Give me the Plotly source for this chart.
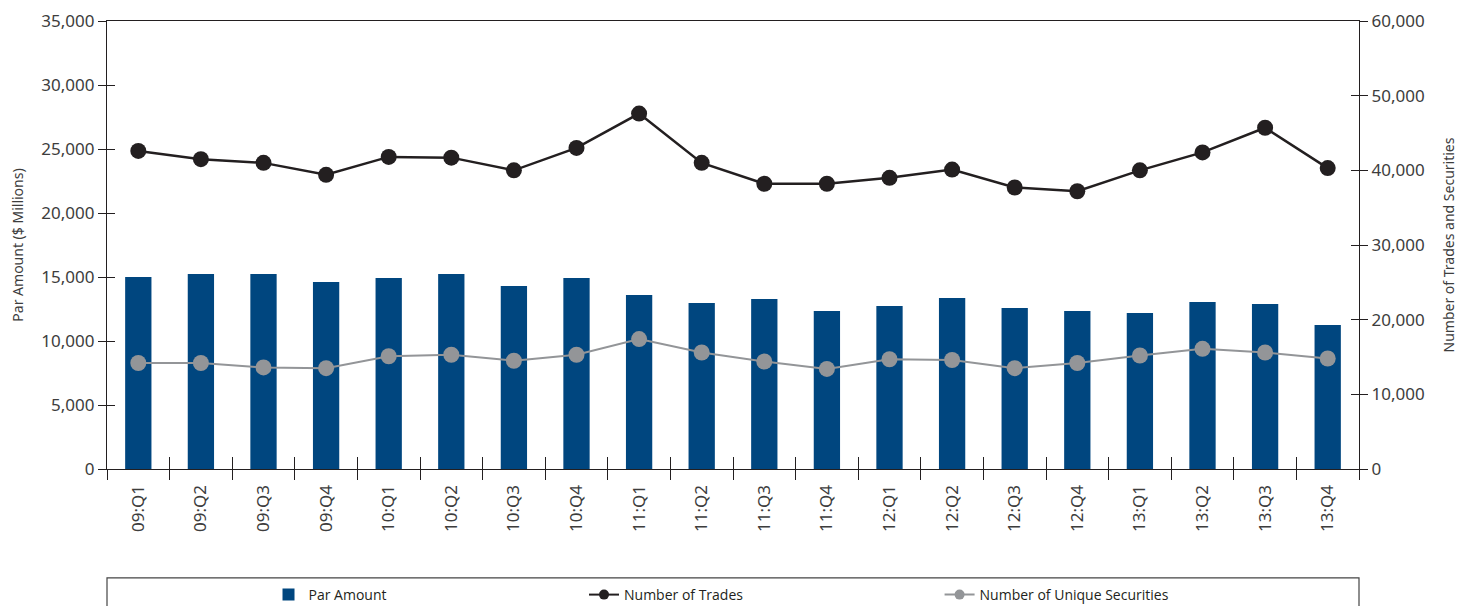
import plotly.graph_objects as go

# --------------------------------------------------
# DATA
# --------------------------------------------------

quarters = [
    "09:Q1", "09:Q2", "09:Q3", "09:Q4",
    "10:Q1", "10:Q2", "10:Q3", "10:Q4",
    "11:Q1", "11:Q2", "11:Q3", "11:Q4",
    "12:Q1", "12:Q2", "12:Q3", "12:Q4",
    "13:Q1", "13:Q2", "13:Q3", "13:Q4",
]

par_amount = [
    15000, 15230, 15230, 14610,
    14920, 15230, 14300, 14920,
    13590, 12970, 13280, 12340,
    12730, 13360, 12580, 12340,
    12190, 13050, 12890, 11250,
]

num_trades = [
    42600, 41500, 41000, 39400,
    41800, 41700, 40000, 43000,
    47600, 41000, 38200, 38200,
    39000, 40100, 37700, 37200,
    40000, 42400, 45700, 40300,
]

unique_securities = [
    14200, 14200, 13600, 13500,
    15100, 15300, 14500, 15300,
    17400, 15600, 14400, 13400,
    14700, 14600, 13500, 14200,
    15200, 16100, 15600, 14800,
]

left_ticks = [0, 5000, 10000, 15000, 20000, 25000, 30000, 35000]
right_ticks = [0, 10000, 20000, 30000, 40000, 50000, 60000]

# --------------------------------------------------
# STYLE
# --------------------------------------------------

BLUE = "#00467f"
DARK = "#231f20"
GREY = "#939598"
TEXT = "#3d3d3d"
FONT = "'Noto Sans', 'Open Sans', sans-serif"
LEGEND_FONT = dict(family="'Open Sans', sans-serif", size=14, color=DARK)

fig = go.Figure()

fig.add_trace(
    go.Bar(
        x=quarters,
        y=par_amount,
        name="Par Amount",
        marker=dict(color=BLUE, line=dict(width=0)),
        width=0.42,
        yaxis="y",
        legend="legend",
    )
)

fig.add_trace(
    go.Scatter(
        x=quarters,
        y=num_trades,
        name="Number of Trades",
        mode="lines+markers",
        line=dict(color=DARK, width=2.5),
        marker=dict(color=DARK, size=16),
        yaxis="y2",
        showlegend=False,
    )
)

fig.add_trace(
    go.Scatter(
        x=quarters,
        y=unique_securities,
        name="Number of Unique Securities",
        mode="lines+markers",
        line=dict(color=GREY, width=2),
        marker=dict(color=GREY, size=16),
        yaxis="y2",
        showlegend=False,
    )
)

# legend-only entries with the small markers of the original key
fig.add_trace(
    go.Scatter(
        x=[None], y=[None],
        name="Number of Trades",
        mode="lines+markers",
        line=dict(color=DARK, width=2),
        marker=dict(color=DARK, size=10),
        yaxis="y2",
        legend="legend2",
    )
)
fig.add_trace(
    go.Scatter(
        x=[None], y=[None],
        name="Number of Unique Securities",
        mode="lines+markers",
        line=dict(color=GREY, width=2),
        marker=dict(color=GREY, size=10),
        yaxis="y2",
        legend="legend3",
    )
)

# empty helpers so the inner half of the crossing ticks gets drawn
fig.add_trace(go.Scatter(x=[], y=[], xaxis="x2", yaxis="y3", showlegend=False))
fig.add_trace(go.Scatter(x=[], y=[], xaxis="x2", yaxis="y4", showlegend=False))

n = len(quarters)
boundaries = [i - 0.5 for i in range(n + 1)]

tick_style = dict(tickcolor=DARK, tickwidth=1.2)

# page body has an 8px margin on every side, so the figure is 16px smaller
W, H = 1450, 598

legend_base = dict(
    orientation="h",
    xanchor="left",
    yref="container",
    y=1 - 587 / H,
    yanchor="middle",
    font=LEGEND_FONT,
    bgcolor="rgba(0,0,0,0)",
)

fig.update_layout(
    width=W,
    height=H,
    margin=dict(l=99, r=99, t=13, b=137),
    plot_bgcolor="white",
    paper_bgcolor="white",
    font=dict(family=FONT, color=TEXT, size=17),
    bargap=0.58,
    xaxis=dict(
        type="category",
        range=[-0.5, n - 0.5],
        tickson="boundaries",
        ticks="outside",
        ticklen=10,
        **tick_style,
        tickangle=-90,
        tickfont=dict(size=17, color=TEXT),
        ticklabelstandoff=8,
        showline=True,
        linecolor=DARK,
        linewidth=1.2,
        mirror=True,
        showgrid=False,
        zeroline=False,
        automargin=False,
    ),
    xaxis2=dict(
        overlaying="x",
        range=[-0.5, n - 0.5],
        tickvals=boundaries,
        ticks="inside",
        ticklen=12,
        **tick_style,
        showticklabels=False,
        showgrid=False,
        zeroline=False,
        showline=False,
        anchor="y3",
        automargin=False,
    ),
    yaxis=dict(
        range=[0, 35000],
        tickvals=left_ticks,
        tickformat=",d",
        ticks="outside",
        ticklen=8,
        **tick_style,
        tickfont=dict(size=17, color=TEXT),
        title=dict(
            text="Par Amount ($ Millions)",
            font=dict(size=14, color=TEXT),
            standoff=17,
        ),
        showline=True,
        linecolor=DARK,
        linewidth=1.2,
        showgrid=False,
        zeroline=False,
        automargin=False,
    ),
    yaxis2=dict(
        overlaying="y",
        side="right",
        range=[0, 60000],
        tickvals=right_ticks,
        tickformat=",d",
        ticks="outside",
        ticklen=8,
        **tick_style,
        tickfont=dict(size=17, color=TEXT),
        title=dict(
            text="Number of Trades and Securities",
            font=dict(size=14, color=TEXT),
            standoff=27,
        ),
        showline=True,
        linecolor=DARK,
        linewidth=1.2,
        showgrid=False,
        zeroline=False,
        automargin=False,
    ),
    yaxis3=dict(
        overlaying="y",
        range=[0, 35000],
        tickvals=left_ticks,
        ticks="inside",
        ticklen=8,
        **tick_style,
        showticklabels=False,
        showgrid=False,
        zeroline=False,
        showline=False,
        automargin=False,
    ),
    yaxis4=dict(
        overlaying="y",
        side="right",
        range=[0, 60000],
        tickvals=right_ticks,
        ticks="inside",
        ticklen=8,
        **tick_style,
        showticklabels=False,
        showgrid=False,
        zeroline=False,
        showline=False,
        automargin=False,
    ),
    legend=dict(legend_base, x=0.129),
    legend2=dict(legend_base, x=0.381),
    legend3=dict(legend_base, x=0.665),
    showlegend=True,
)

# legend frame (open at the bottom edge of the page)
fig.add_shape(
    type="rect",
    xref="paper",
    yref="paper",
    x0=0,
    x1=1,
    y0=-0.45,
    y1=-0.243,
    line=dict(color="#444444", width=1.2),
    fillcolor="rgba(0,0,0,0)",
    layer="below",
)

fig.write_html("out.html")
